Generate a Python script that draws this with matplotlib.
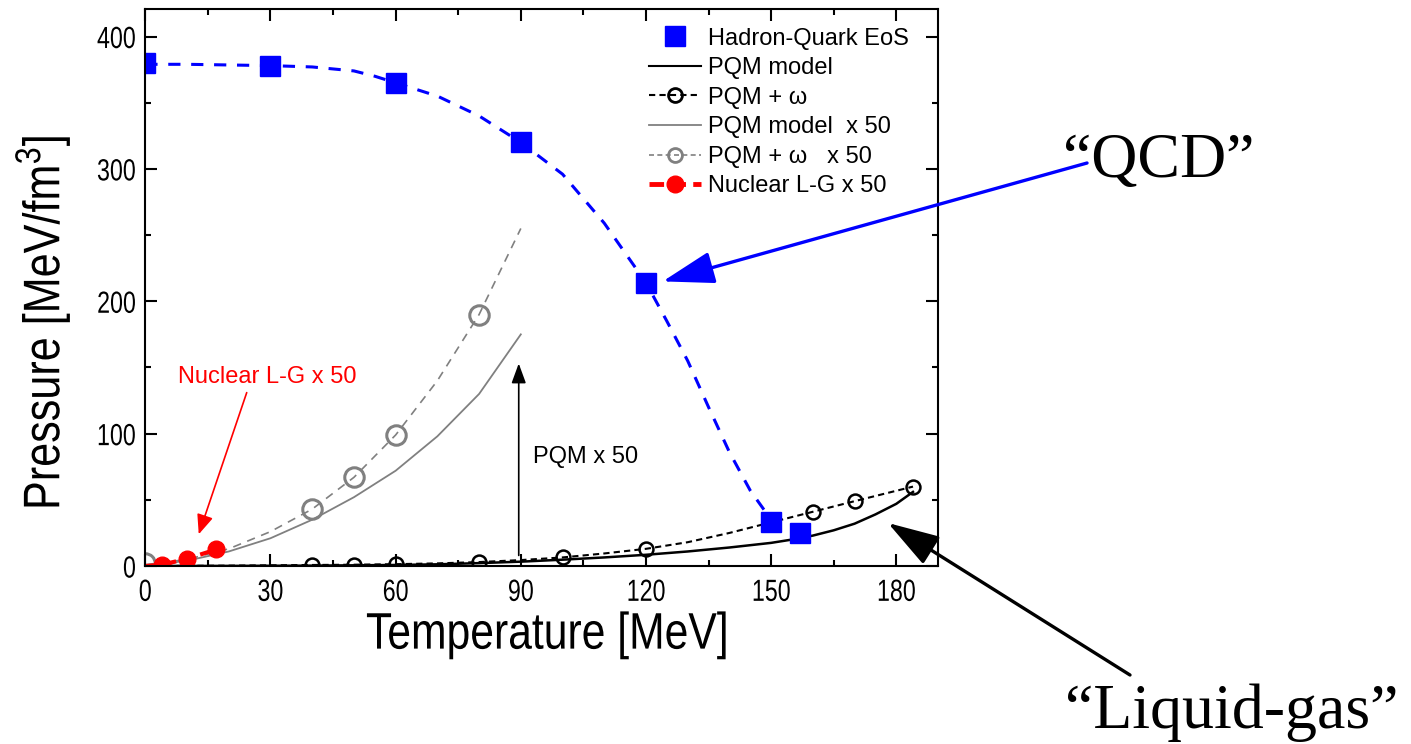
import matplotlib
matplotlib.use("Agg")
import matplotlib.pyplot as plt
from matplotlib.patheffects import AbstractPathEffect
from matplotlib.transforms import Affine2D

# Hadron-Quark EoS (blue squares + dashed guide)
hq_T = [0, 30, 60, 90, 120, 150, 157]
hq_P = [380, 378, 365, 320, 214, 33, 25]
hq_line_T = [0, 10, 20, 30, 40, 50, 55, 60, 70, 80, 90, 100, 110, 120, 125, 130, 135, 140, 145, 150, 154]
hq_line_P = [379, 379, 378.5, 378, 377, 374, 370, 365, 355, 340, 320, 296, 259, 214, 185, 155, 120, 86, 57, 35, 27]

# PQM model
pqm_T = [0, 20, 40, 60, 70, 80, 90, 100, 110, 120, 130, 140, 150, 155, 160, 165, 170, 175, 180, 184]
pqm_P = [0, 0.1, 0.3, 0.8, 1.3, 2.2, 3.3, 4.8, 6.5, 8.5, 11, 14, 17.5, 20, 23, 27, 32, 39, 47, 56]

# PQM + omega
om_line_T = [0, 20, 40, 50, 60, 70, 80, 90, 100, 110, 120, 130, 140, 150, 160, 170, 184]
om_line_P = [0, 0.3, 0.8, 1.0, 1.4, 2.0, 3.0, 4.5, 6.5, 9.5, 13, 18, 25, 33, 41, 49, 60]
om_T = [40, 50, 60, 80, 100, 120, 160, 170, 184]
om_P = [0.8, 1.0, 1.4, 3.0, 6.5, 13, 41, 49, 60]

# x 50 versions
pqm50_T = [0, 10, 20, 30, 40, 50, 60, 70, 80, 90]
pqm50_P = [0, 4, 11, 21, 35, 52, 72, 98, 130, 175]
om50_line_T = [0, 10, 20, 30, 40, 50, 60, 70, 80, 90]
om50_line_P = [1, 5, 13, 26, 43, 67, 99, 140, 190, 255]
om50_T = [0, 40, 50, 60, 80]
om50_P = [2, 43, 67, 99, 190]

# Nuclear liquid-gas x 50
lg_line_T = [0, 4, 10, 17]
lg_line_P = [0, 1, 5.5, 12.5]
lg_T = [4, 10, 17]
lg_P = [1, 5.5, 12.5]

x_ticks = [0, 30, 60, 90, 120, 150, 180]
y_ticks = [0, 100, 200, 300, 400]


class Squeeze(AbstractPathEffect):
    # narrow the glyphs along the text direction, keeping one anchor fixed
    def __init__(self, sx, anchor="center"):
        super().__init__()
        self.sx = sx
        self.anchor = anchor

    def draw_path(self, renderer, gc, tpath, affine, rgbFace=None):
        ext = tpath.get_extents()
        cx = {"left": ext.x0, "right": ext.x1, "center": (ext.x0 + ext.x1) / 2}[self.anchor]
        squeeze = Affine2D().translate(-cx, 0).scale(self.sx, 1).translate(cx, 0)
        renderer.draw_path(gc, tpath, squeeze + affine, rgbFace)


plt.rcParams["font.family"] = "Liberation Sans"
plt.rcParams["mathtext.fontset"] = "custom"
plt.rcParams["mathtext.rm"] = "Liberation Sans"
plt.rcParams["mathtext.default"] = "regular"

fig = plt.figure(figsize=(14.11, 7.44), dpi=100)
ax = fig.add_axes([0.103, 0.2392, 0.5618, 0.7491])

grey = "#808080"
ax.plot(pqm50_T, pqm50_P, color=grey, lw=1.3)
ax.plot(om50_line_T, om50_line_P, color=grey, lw=1.2, ls=(0, (5, 4)))
ax.plot(om50_T, om50_P, "o", mfc="none", mec=grey, mew=2.2, ms=14)
ax.plot(pqm_T, pqm_P, color="k", lw=1.8)
ax.plot(om_line_T, om_line_P, color="k", lw=1.5, ls=(0, (3, 2)))
ax.plot(om_T, om_P, "o", mfc="none", mec="k", mew=1.8, ms=10)
ax.plot(lg_line_T, lg_line_P, color="red", lw=3, ls=(0, (3, 1.5)))
ax.plot(lg_T, lg_P, "o", color="red", ms=12)
ax.plot(hq_line_T, hq_line_P, color="blue", lw=2.2, ls=(0, (4, 3.5)))
ax.plot(hq_T, hq_P, "s", color="blue", ms=14)

# legend handles
h1, = ax.plot([], [], "s", color="blue", ms=14, label="Hadron-Quark EoS")
h2, = ax.plot([], [], color="k", lw=1.5, label="PQM model")
h3, = ax.plot([], [], color="k", lw=1.5, ls=(0, (3, 2)), marker="o", mfc="none",
              mec="k", mew=2, ms=10, label="PQM + ω")
h4, = ax.plot([], [], color=grey, lw=1.3, label="PQM model  x 50")
h5, = ax.plot([], [], color=grey, lw=1.2, ls=(0, (3, 2)), marker="o", mfc="none",
              mec=grey, mew=2, ms=10, label="PQM + ω   x 50")
h6, = ax.plot([], [], color="red", lw=3.5, ls=(0, (3, 1.5)), marker="o", ms=12,
              label="Nuclear L-G x 50")
ax.legend(handles=[h1, h2, h3, h4, h5, h6], loc="upper right", bbox_to_anchor=(0.987, 1.0),
          frameon=False, fontsize=17, handlelength=2.2, handletextpad=0.3,
          labelspacing=0.32, borderpad=0.3)

ax.set_xlim(0, 190)
ax.set_ylim(0, 421)
ax.set_xticks(x_ticks)
ax.set_xticks(range(15, 190, 30), minor=True)
ax.set_yticks(y_ticks)
ax.set_yticks([50, 150, 250, 350], minor=True)
ax.tick_params(which="both", direction="in", top=True, right=True, width=1.5)
ax.tick_params(which="major", length=8.5)
ax.tick_params(which="minor", length=4.5)
ax.tick_params(axis="x", pad=8.5)
ax.tick_params(axis="y", pad=6.5)
for lab in ax.get_xticklabels():
    lab.set_fontsize(22)
    lab.set_path_effects([Squeeze(0.76, "center")])
for lab in ax.get_yticklabels():
    lab.set_fontsize(22)
    lab.set_path_effects([Squeeze(0.76, "right")])
for s in ax.spines.values():
    s.set_linewidth(1.5)

xl = ax.set_xlabel("Temperature [MeV]", fontsize=37)
xl.set_path_effects([Squeeze(0.83, "center")])
ax.xaxis.set_label_coords(0.507, -0.08)
xl.set_va("top")
yl = ax.set_ylabel("Pressure [MeV/fm$^3$]", fontsize=37)
yl.set_path_effects([Squeeze(0.84, "center")])
ax.yaxis.set_label_coords(-0.092, 0.436)

# inner annotations
ax.annotate("", xy=(89.5, 153), xytext=(89.5, 8),
            arrowprops=dict(arrowstyle="-|>,head_length=0.6,head_width=0.22",
                            color="k", lw=1.2, mutation_scale=20, shrinkA=0, shrinkB=0))
ax.text(92.8, 82.5, "PQM x 50", fontsize=17, ha="left", va="center")
ax.annotate("", xy=(12.8, 24), xytext=(24.3, 131),
            arrowprops=dict(arrowstyle="-|>,head_length=0.6,head_width=0.25",
                            color="red", lw=1.2, mutation_scale=20, shrinkA=0, shrinkB=0))
ax.text(7.8, 143, "Nuclear L-G x 50", fontsize=17, color="red", ha="left", va="center")

# outer annotations
ax.annotate("", xy=(124, 215), xycoords="data", xytext=(0.7704, 0.7809),
            textcoords="figure fraction", annotation_clip=False,
            arrowprops=dict(arrowstyle="-|>,head_length=1.6,head_width=0.5",
                            color="blue", lw=2.4, mutation_scale=20, shrinkA=0, shrinkB=0))
ax.annotate("", xy=(178, 32.5), xycoords="data", xytext=(1130 / 1411, 1 - 675 / 744),
            textcoords="figure fraction", annotation_clip=False,
            arrowprops=dict(arrowstyle="-|>,head_length=1.6,head_width=0.5",
                            color="k", lw=2.4, mutation_scale=20, shrinkA=0, shrinkB=0))
fig.text(1063 / 1411, 1 - 177 / 744, "\u201cQCD\u201d", fontfamily="Liberation Serif",
         fontsize=46, ha="left", va="baseline")
fig.text(1065 / 1411, 1 - 728 / 744, "\u201cLiquid-gas\u201d", fontfamily="Liberation Serif",
         fontsize=46, ha="left", va="baseline")

fig.savefig("out.png", dpi=100)
